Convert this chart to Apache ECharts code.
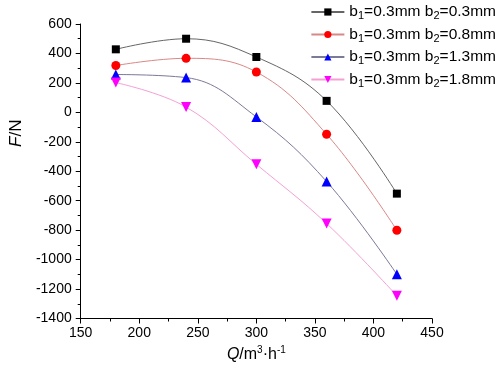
<!DOCTYPE html>
<html>
<head>
<meta charset="utf-8">
<script src="https://cdn.jsdelivr.net/npm/echarts@6/dist/echarts.min.js"></script>
<style>
html, body { margin: 0; padding: 0; background: #fff; }
#chart { width: 498px; height: 368px; }
</style>
</head>
<body>
<div id="chart"></div>
<script>
var flows = [180, 240, 300, 360, 420];
var names = ['b1=0.3mm b2=0.3mm', 'b1=0.3mm b2=0.8mm', 'b1=0.3mm b2=1.3mm', 'b1=0.3mm b2=1.8mm'];
var force03 = [428, 500, 376, 78, -552];
var force08 = [318, 367, 274, -149, -801];
var force13 = [257, 236, -31, -470, -1100];
var force18 = [202, 36, -353, -755, -1246];

var markColors = ['#000000', '#ff0000', '#0000ff', '#ff00ff'];
var lineColors = ['#666666', '#d98888', '#7a7a99', '#f5a0d5'];
var symbols = ['rect', 'circle', 'triangle', 'triangle'];
var rotations = [0, 0, 0, 180];
var sizes = [8, 9, 10, 10];
var allData = [force03, force08, force13, force18];

var font = 'Arial, "Liberation Sans", sans-serif';

var series = [];
for (var i = 0; i < names.length; i++) {
    var pts = [];
    for (var j = 0; j < flows.length; j++) {
        pts.push([flows[j], allData[i][j]]);
    }
    series.push({
        type: 'line',
        name: names[i],
        data: pts,
        smooth: 0.4,
        symbol: symbols[i],
        symbolRotate: rotations[i],
        symbolSize: sizes[i],
        itemStyle: { color: markColors[i] },
        lineStyle: { color: lineColors[i], width: 1 }
    });
}

var chart = echarts.init(document.getElementById('chart'));
chart.setOption({
    animation: false,
    backgroundColor: '#fff',
    grid: { left: 58, right: 66, top: 24, bottom: 42 },
    legend: {
        data: names,
        orient: 'vertical',
        right: -3,
        top: -1,
        itemWidth: 33,
        itemHeight: 9,
        itemGap: 5,
        textStyle: {
            fontFamily: font,
            fontSize: 16,
            color: '#000',
            rich: {
                n: { fontFamily: font, fontSize: 15.5, color: '#000' },
                s: { fontFamily: font, fontSize: 11, color: '#000', padding: [8, 0, 0, 0] }
            }
        },
        formatter: function (name) {
            var m = name.match(/b1=(\S+) b2=(\S+)/);
            return '{n|b}{s|1}{n|=' + m[1] + ' b}{s|2}{n|=' + m[2] + '}';
        }
    },
    xAxis: {
        type: 'value',
        min: 150,
        max: 450,
        interval: 50,
        name: '{i|Q}{n|/m}{p|3}{n|·h}{p|-1}',
        nameLocation: 'middle',
        nameGap: 27,
        nameTextStyle: {
            rich: {
                i: { fontFamily: font, fontSize: 16, fontStyle: 'italic', color: '#000' },
                n: { fontFamily: font, fontSize: 16, color: '#000' },
                p: { fontFamily: font, fontSize: 10, color: '#000', padding: [0, 0, 9, 0] }
            }
        },
        axisLine: { onZero: false, lineStyle: { color: '#000', width: 1 } },
        axisTick: { inside: false, length: 5, lineStyle: { color: '#000' } },
        minorTick: { show: true, splitNumber: 2, length: 3, lineStyle: { color: '#000' } },
        axisLabel: { fontFamily: font, fontSize: 14, color: '#000', margin: 8 },
        splitLine: { show: false }
    },
    yAxis: {
        type: 'value',
        min: -1400,
        max: 600,
        interval: 200,
        name: '{i|F}{n|/N}',
        nameLocation: 'middle',
        nameGap: 47,
        nameRotate: 90,
        nameTextStyle: {
            padding: [0, 0, 0, 76],
            rich: {
                i: { fontFamily: font, fontSize: 17, fontStyle: 'italic', color: '#000' },
                n: { fontFamily: font, fontSize: 17, color: '#000' }
            }
        },
        axisLine: { show: true, onZero: false, lineStyle: { color: '#000', width: 1 } },
        axisTick: { show: true, inside: false, length: 5, lineStyle: { color: '#000' } },
        minorTick: { show: true, splitNumber: 2, length: 3, lineStyle: { color: '#000' } },
        axisLabel: {
            fontFamily: font, fontSize: 14, color: '#000', margin: 9,
            formatter: function (v) { return String(v); }
        },
        splitLine: { show: false }
    },
    series: series
});
</script>
</body>
</html>
